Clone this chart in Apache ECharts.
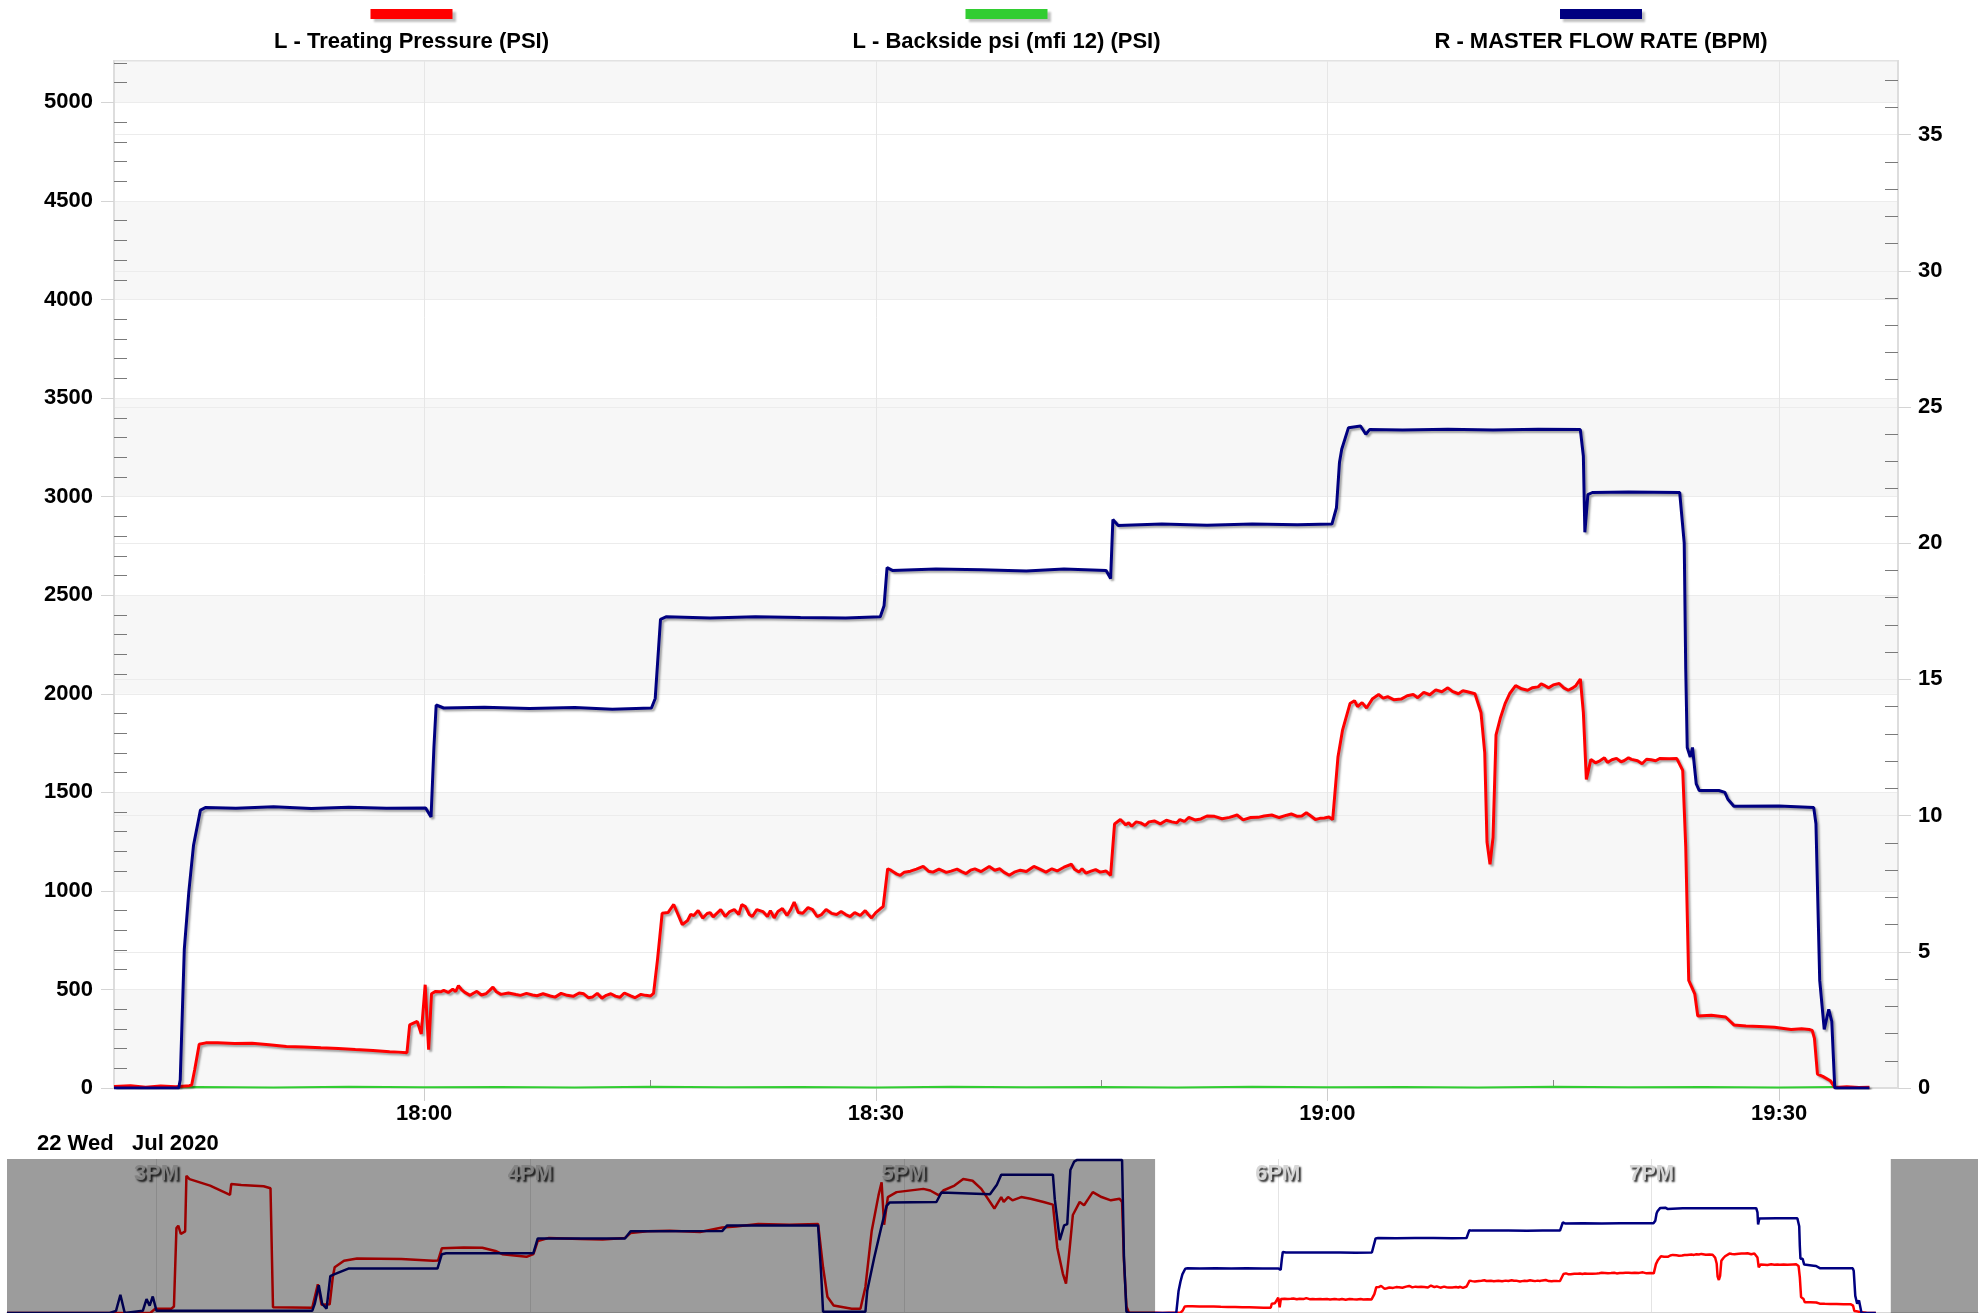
<!DOCTYPE html>
<html>
<head>
<meta charset="utf-8">
<title>Treating pressure / flow rate</title>
<script src="https://cdn.jsdelivr.net/npm/echarts@6/dist/echarts.min.js"></script>
<style>
  html, body { margin: 0; padding: 0; background: #fff; }
  #chart { width: 1986px; height: 1313px; }
</style>
</head>
<body>
<div id="chart"></div>
<script type="text/javascript">
// all times are minutes after 17:00 on 22 Jul 2020
var mainTicks = [60, 90, 120, 150];          // 18:00 .. 19:30
var mainMinorTicks = [75, 105, 135];
var navHours = [-120, -60, 0, 60, 120];      // 3PM .. 7PM
var navWindow = [40.3, 158.4];

// L - Treating Pressure (PSI)
var treatingPsi = [
  [39.4,8],[40.5,12],[41.5,4],[42.5,10],[43.5,6],[44.4,12],[44.56,15],[44.76,93],[45.06,222],[45.5,229],
  [46.28,229],[47.4,226],[48.57,227],[49.7,220],[50.85,211],[52,208],[53.14,204],[54.3,200],[55.43,195],
  [56.6,190],[57.71,184],[58.3,182],[58.86,179],[59.04,320],[59.54,338],[59.81,274],[60.07,524],[60.3,195],
  [60.49,478],[60.76,490],[61.1,488],[61.3,495],[61.6,485],[61.9,501],[62.1,490],[62.28,519],[62.5,498],
  [62.7,485],[63.05,470],[63.3,482],[63.5,490],[63.8,472],[64.1,478],[64.35,495],[64.57,512],[64.8,488],
  [65.1,475],[65.6,482],[66.1,474],[66.4,470],[66.8,480],[67.2,472],[67.5,468],[67.9,478],[68.38,467],
  [68.7,461],[69.1,480],[69.5,470],[69.9,465],[70.3,482],[70.6,478],[70.9,458],[71.2,462],[71.5,480],
  [71.81,456],[72.1,470],[72.4,478],[72.7,466],[73.0,460],[73.3,482],[73.72,467],[74.0,458],[74.4,475],
  [74.7,470],[75.05,467],[75.24,480],[75.5,650],[75.81,886],[76.2,890],[76.58,931],[77.15,829],[77.5,850],
  [77.7,880],[77.91,875],[78.2,900],[78.5,862],[78.8,885],[79.0,890],[79.2,868],[79.44,886],[79.7,905],
  [80.0,870],[80.3,895],[80.6,905],[80.9,880],[81.1,930],[81.34,920],[81.6,880],[81.8,870],[82.1,905],
  [82.5,895],[82.8,870],[83.0,900],[83.25,863],[83.5,895],[83.8,910],[84.1,875],[84.35,905],[84.58,943],
  [84.85,890],[85.15,886],[85.5,915],[85.8,905],[86.1,870],[86.4,880],[86.7,905],[87.06,886],[87.4,880],
  [87.7,895],[88.0,880],[88.3,870],[88.6,890],[88.97,875],[89.3,900],[89.5,880],[89.72,863],[90.0,890],
  [90.3,909],[90.49,920],[90.79,1112],[91.0,1105],[91.2,1095],[91.4,1085],[91.63,1079],[91.9,1095],
  [92.3,1100],[92.7,1110],[93.15,1124],[93.5,1100],[93.8,1095],[94.2,1110],[94.68,1094],[95.0,1100],
  [95.4,1110],[95.7,1098],[96.0,1088],[96.3,1105],[96.58,1112],[97.0,1098],[97.54,1124],[97.9,1105],
  [98.24,1112],[98.5,1095],[98.87,1079],[99.2,1095],[99.6,1105],[100.0,1098],[100.5,1124],[100.9,1110],
  [101.3,1095],[101.7,1112],[102.05,1101],[102.5,1120],[103.0,1135],[103.2,1110],[103.5,1096],[103.7,1112],
  [103.96,1090],[104.3,1100],[104.6,1108],[104.9,1095],[105.3,1101],[105.6,1079],[105.86,1339],[106.25,1362],
  [106.6,1335],[106.8,1345],[107.0,1328],[107.3,1350],[107.6,1345],[107.9,1332],[108.15,1350],[108.5,1355],
  [108.9,1340],[109.3,1358],[109.67,1350],[110.0,1345],[110.2,1362],[110.5,1352],[110.8,1373],[111.2,1360],
  [111.6,1365],[112.0,1380],[112.5,1378],[113.0,1366],[113.5,1373],[114.0,1385],[114.4,1360],[114.9,1372],
  [115.4,1373],[115.8,1380],[116.3,1385],[116.8,1372],[117.3,1384],[117.6,1390],[118.0,1378],[118.3,1380],
  [118.6,1396],[118.9,1380],[119.2,1362],[119.5,1368],[119.8,1370],[120.1,1375],[120.35,1362],[120.7,1679],
  [121.0,1814],[121.5,1950],[121.8,1965],[122.0,1935],[122.3,1955],[122.6,1928],[123.0,1975],[123.4,1996],
  [123.7,1978],[124.0,1985],[124.4,1970],[124.9,1973],[125.3,1990],[125.7,1996],[126.0,1980],[126.4,2007],
  [126.8,1995],[127.2,2020],[127.6,2010],[128.0,2030],[128.3,2012],[128.7,2000],[129.0,2015],[129.3,2010],
  [129.8,2000],[130.2,1905],[130.45,1700],[130.6,1248],[130.8,1135],[131.0,1271],[131.2,1792],[131.5,1880],
  [131.8,1950],[132.1,2000],[132.5,2041],[132.9,2025],[133.3,2018],[133.6,2030],[134.0,2035],[134.2,2050],
  [134.45,2041],[134.7,2030],[135.0,2045],[135.4,2052],[135.7,2030],[136.0,2018],[136.3,2030],[136.5,2041],
  [136.8,2075],[137.0,1905],[137.2,1565],[137.5,1667],[137.8,1650],[138.1,1660],[138.4,1675],[138.6,1651],
  [138.9,1665],[139.2,1672],[139.5,1655],[139.7,1660],[140.0,1675],[140.2,1667],[140.6,1660],[140.9,1645],
  [141.2,1668],[141.5,1665],[141.8,1660],[142.1,1672],[142.7,1670],[143.2,1672],[143.6,1611],[143.8,1226],
  [144.0,546],[144.4,478],[144.6,365],[145.5,369],[146.45,360],[147.0,320],[147.8,315],[148.7,312],
  [149.7,308],[150.8,297],[151.5,300],[152.0,297],[152.2,292],[152.35,252],[152.55,70],[152.9,59],[153.4,37],
  [153.7,3],[154.5,6],[155.3,3],[156.0,4]
];

// L - Backside psi (mfi 12) (PSI)
var backsidePsi = [
  [39.4,4],[45,5],[50,3],[55,6],[60,4],[65,5],[70,3],[75,6],[80,4],[85,5],[90,3],[95,6],[100,4],
  [105,5],[110,3],[115,6],[120,4],[125,5],[130,3],[135,6],[140,4],[145,5],[150,3],[153.7,5]
];

// R - MASTER FLOW RATE (BPM)
var flowBpm = [
  [39.4,0],[43.7,0],[43.8,0.3],[44.07,5.1],[44.37,7.2],[44.68,8.9],[45.14,10.2],[45.5,10.3],[47.5,10.27],
  [50,10.32],[52.5,10.26],[55,10.31],[57.5,10.27],[60.1,10.28],[60.46,9.95],[60.65,12.5],[60.8,14.06],
  [61.3,13.95],[64,13.98],[67,13.93],[70,13.97],[72.5,13.9],[75.1,13.95],[75.35,14.3],[75.7,17.2],[76.1,17.3],
  [79,17.25],[82,17.3],[85,17.27],[88,17.25],[90.3,17.3],[90.55,17.7],[90.75,19.1],[91.1,19.0],[94,19.05],
  [97,19.02],[100,18.98],[102.5,19.05],[105.3,19.0],[105.6,18.7],[105.75,20.87],[106.1,20.65],[109,20.7],
  [112,20.66],[115,20.7],[118,20.68],[120.3,20.7],[120.6,21.3],[120.8,22.96],[120.95,23.45],[121.4,24.24],
  [122.2,24.3],[122.55,24.0],[122.8,24.17],[125,24.15],[128,24.18],[131,24.15],[134,24.18],[136.8,24.17],
  [137.0,23.2],[137.1,20.4],[137.3,21.78],[137.6,21.86],[140,21.88],[143.4,21.86],[143.7,20.0],[143.8,15.4],
  [143.9,12.5],[144.1,12.15],[144.25,12.5],[144.5,11.16],[144.7,10.92],[146.0,10.92],[146.4,10.85],
  [146.6,10.6],[147.0,10.34],[150,10.35],[152.3,10.3],[152.45,9.7],[152.7,3.95],[153.0,2.15],[153.3,2.89],
  [153.5,2.45],[153.7,0],[156.0,0]
];

// overview strip, earlier part of the day (before the zoomed window)
var navPsiBefore = [
  [-144,0],[-121,0],[-120.2,145],[-117.6,150],[-117.2,222],[-116.8,2916],[-116.5,3000],[-116.1,2714],[-115.4,2805],
  [-115.2,4714],[-114.7,4600],[-111.4,4377],[-108.2,4061],[-108.0,4431],[-106.4,4398],[-102.8,4354],
  [-101.7,4286],[-101.3,200],[-101.0,178],[-95.0,178],[-94.1,987],[-93.5,280],[-92.2,300],[-91.7,1233],
  [-91.4,1570],[-89.9,1795],[-87.8,1873],[-80.7,1852],[-75.6,1795],[-74.8,1800],[-74.2,2222],[-70.7,2246],
  [-67.7,2243],[-65.6,2131],[-64.5,2020],[-60.6,1929],[-59.5,2020],[-58.8,2468],[-57.0,2579],[-52.0,2545],
  [-48.4,2525],[-44.8,2579],[-43.9,2747],[-41.2,2805],[-37.6,2828],[-32.75,2781],[-29.2,2939],[-27.0,2973],
  [-23.4,3058],[-18.4,3030],[-13.8,3058],[-13.0,1570],[-12.3,560],[-11.3,259],[-8.4,145],[-7.0,145],[-6.2,896],
  [-5.2,2805],[-4.1,4040],[-3.6,4488],[-3.2,3030],[-2.6,3983],[-1.2,4152],[3.1,4264],[4.2,4208],[5.6,4040],
  [6.3,4208],[8.1,4377],[9.5,4600],[11.0,4544],[12.4,4264],[14.5,3589],[15.6,3983],[16.0,3815],[16.7,3983],
  [17.4,3871],[18.8,3983],[20.3,3927],[22.4,3815],[23.9,3724],[24.6,2243],[25.5,1347],[26.0,1010],[26.6,2243],
  [27.1,3367],[28.2,3815],[28.9,3703],[29.6,3927],[30.3,4152],[31.7,3983],[33.2,3871],[34.6,3927],[35.0,3815],
  [35.3,1795],[35.7,222],[36.1,10]
];
var navBpmBefore = [
  [-144,0],[-127.5,0],[-126.5,0.5],[-125.8,4.2],[-125.1,0],[-122.2,0.5],[-121.6,3.2],[-121.1,1.7],[-120.6,3.8],
  [-120.0,0.5],[-95,0.5],[-94.6,2.1],[-93.95,6.4],[-93.4,2.1],[-92.7,1.0],[-92.1,8.5],[-91.5,8.9],[-89.2,10.25],
  [-74.9,10.25],[-74.2,13.57],[-73.5,13.8],[-59.5,13.8],[-58.8,17.2],[-44.8,17.2],[-43.9,18.85],[-29.2,18.9],
  [-28.4,20.2],[-13.8,20.2],[-13.3,8.9],[-13.0,0.3],[-6.2,0.3],[-5.9,5.2],[-4.8,12.7],[-3.7,19.5],[-2.8,24.7],
  [-2.3,25.5],[5.2,25.6],[6.0,27.8],[13.8,27.4],[14.9,29.6],[15.6,31.9],[23.9,31.9],[24.2,26.2],[25.0,16.8],
  [25.7,20.2],[26.2,20.5],[26.7,33.0],[27.3,34.9],[27.8,35.3],[35.0,35.3],[35.3,13],[35.7,0.3],[36.1,0]
];

var FONT = "'Liberation Sans', Arial, sans-serif";
var RED = '#ff0000', GREEN = '#32cd32', BLUE = '#000080';

var leftMinor = [];
for (var v = 100; v < 5210; v += 100) { if (v % 500) leftMinor.push(v); }
var rightMinor = [];
for (var r = 1; r < 37.7; r++) { if (r % 5) rightMinor.push(r); }

function clock(m) {
    var h = 17 + Math.floor(m / 60);
    var mm = Math.round(m - Math.floor(m / 60) * 60);
    return h + ':' + (mm < 10 ? '0' : '') + mm;
}
function hourLabel(m) {
    var h = 17 + Math.round(m / 60);
    return (h > 12 ? h - 12 : h) + 'PM';
}
function plain(v) { return String(v); }

var labelStyle = { color: '#000', fontSize: 22, fontWeight: 'bold', fontFamily: FONT };
var lineShadow = { shadowColor: 'rgba(0,0,0,0.35)', shadowBlur: 2, shadowOffsetX: 2, shadowOffsetY: 2 };

function legendItem(cx, color, text) {
    return [
        { type: 'rect', shape: { x: cx - 41, y: 9, width: 82, height: 10 },
          style: { fill: color, shadowColor: 'rgba(0,0,0,0.25)', shadowBlur: 2, shadowOffsetX: 3, shadowOffsetY: 3 } },
        { type: 'text', x: cx, y: 42,
          style: { text: text, fill: '#000', font: 'bold 22px ' + FONT, align: 'center', verticalAlign: 'middle' } }
    ];
}

var myChart = echarts.init(document.getElementById('chart'));
var option = {
    animation: false,
    backgroundColor: '#fff',
    textStyle: { fontFamily: FONT },
    graphic: [].concat(
        legendItem(411.5, RED, 'L - Treating Pressure (PSI)'),
        legendItem(1006.5, GREEN, 'L - Backside psi (mfi 12) (PSI)'),
        legendItem(1601, BLUE, 'R - MASTER FLOW RATE (BPM)'),
        [{ type: 'text', x: 37, y: 1144,
           style: { text: '22 Wed   Jul 2020', fill: '#000', font: 'bold 22px ' + FONT, align: 'left', verticalAlign: 'middle' } }]
    ),
    grid: [
        { left: 114, right: 88, top: 61, height: 1027, show: true, borderColor: '#e2e2e2', borderWidth: 2, backgroundColor: '#fff' },
        { left: 7, right: 8, top: 1159, height: 157 }
    ],
    xAxis: [
        {   // main time axis
            type: 'value', gridIndex: 0, min: 39.4, max: 157.9, position: 'bottom',
            axisLine: { show: true, lineStyle: { color: '#dddddd', width: 2 } },
            axisTick: { show: true, customValues: mainTicks, length: 13, lineStyle: { color: '#cccccc' } },
            axisLabel: Object.assign({ customValues: mainTicks, margin: 15, formatter: clock }, labelStyle),
            splitLine: { show: true, lineStyle: { color: '#e6e6e6' } }
        },
        {   // 15 min minor ticks, inside
            type: 'value', gridIndex: 0, min: 39.4, max: 157.9, position: 'bottom',
            axisLine: { show: false },
            axisTick: { show: true, inside: true, customValues: mainMinorTicks, length: 8, lineStyle: { color: '#888' } },
            axisLabel: { show: false },
            splitLine: { show: false }
        },
        {   // overview strip
            type: 'value', gridIndex: 1, min: -144, max: 172.4, position: 'top',
            axisLine: { show: true, lineStyle: { color: '#d8d8d8', width: 2 } },
            axisTick: { show: false, customValues: navHours },
            axisLabel: {
                customValues: navHours, inside: true, margin: 4, formatter: hourLabel,
                color: '#d6d6d6', fontSize: 22, fontWeight: 'bold', fontFamily: FONT,
                textShadowColor: 'rgba(0,0,0,0.85)', textShadowBlur: 2, textShadowOffsetX: 2, textShadowOffsetY: 2
            },
            splitLine: { show: true, lineStyle: { color: '#e4e4e4' } }
        }
    ],
    yAxis: [
        {   // left PSI
            type: 'value', gridIndex: 0, position: 'left', min: 0, max: 5210, interval: 500,
            axisLine: { show: true, lineStyle: { color: '#dddddd', width: 2 } },
            axisTick: { show: true, length: 13, lineStyle: { color: '#d4d4d4' } },
            axisLabel: Object.assign({ margin: 21, showMaxLabel: false, formatter: plain }, labelStyle),
            splitLine: { show: true, lineStyle: { color: '#ececec' } },
            splitArea: { show: true, areaStyle: { color: ['#f7f7f7', '#ffffff'] } }
        },
        {   // right BPM
            type: 'value', gridIndex: 0, position: 'right', min: 0, max: 37.7, interval: 5,
            axisLine: { show: true, lineStyle: { color: '#dddddd', width: 2 } },
            axisTick: { show: true, length: 13, lineStyle: { color: '#d4d4d4' } },
            axisLabel: Object.assign({ margin: 20, showMaxLabel: false, formatter: plain }, labelStyle),
            splitLine: { show: true, lineStyle: { color: '#ececec' } }
        },
        {   // left minor ticks
            type: 'value', gridIndex: 0, position: 'left', min: 0, max: 5210,
            axisLine: { show: false }, axisLabel: { show: false }, splitLine: { show: false },
            axisTick: { show: true, inside: true, length: 13, customValues: leftMinor, lineStyle: { color: '#7a7a7a' } }
        },
        {   // right minor ticks
            type: 'value', gridIndex: 0, position: 'right', min: 0, max: 37.7,
            axisLine: { show: false }, axisLabel: { show: false }, splitLine: { show: false },
            axisTick: { show: true, inside: true, length: 13, customValues: rightMinor, lineStyle: { color: '#7a7a7a' } }
        },
        { type: 'value', gridIndex: 1, min: 0, max: 5290, show: false },
        { type: 'value', gridIndex: 1, min: 0, max: 35.52, show: false }
    ],
    series: [
        {
            name: 'L - Backside psi (mfi 12) (PSI)', type: 'line', xAxisIndex: 0, yAxisIndex: 0,
            data: backsidePsi, showSymbol: false, symbol: 'none',
            lineStyle: { color: GREEN, width: 2 }
        },
        {
            name: 'L - Treating Pressure (PSI)', type: 'line', xAxisIndex: 0, yAxisIndex: 0,
            data: treatingPsi, showSymbol: false, symbol: 'none',
            lineStyle: Object.assign({ color: RED, width: 3 }, lineShadow)
        },
        {
            name: 'R - MASTER FLOW RATE (BPM)', type: 'line', xAxisIndex: 0, yAxisIndex: 1,
            data: flowBpm, showSymbol: false, symbol: 'none',
            lineStyle: Object.assign({ color: BLUE, width: 3 }, lineShadow)
        },
        {
            name: 'nav psi', type: 'line', xAxisIndex: 2, yAxisIndex: 4,
            data: navPsiBefore.concat(treatingPsi), showSymbol: false, symbol: 'none',
            lineStyle: { color: RED, width: 2.5 }
        },
        {
            name: 'nav bpm', type: 'line', xAxisIndex: 2, yAxisIndex: 5,
            data: navBpmBefore.concat(flowBpm), showSymbol: false, symbol: 'none',
            lineStyle: { color: BLUE, width: 2.5 }
        },
        {
            name: 'nav mask', type: 'line', xAxisIndex: 2, yAxisIndex: 4, data: [], z: 10,
            markArea: {
                silent: true, z: 10,
                itemStyle: { color: 'rgba(0,0,0,0.39)' },
                data: [
                    [{ xAxis: -144 }, { xAxis: navWindow[0] }],
                    [{ xAxis: navWindow[1] }, { xAxis: 172.4 }]
                ]
            }
        }
    ]
};
myChart.setOption(option);
</script>
</body>
</html>
